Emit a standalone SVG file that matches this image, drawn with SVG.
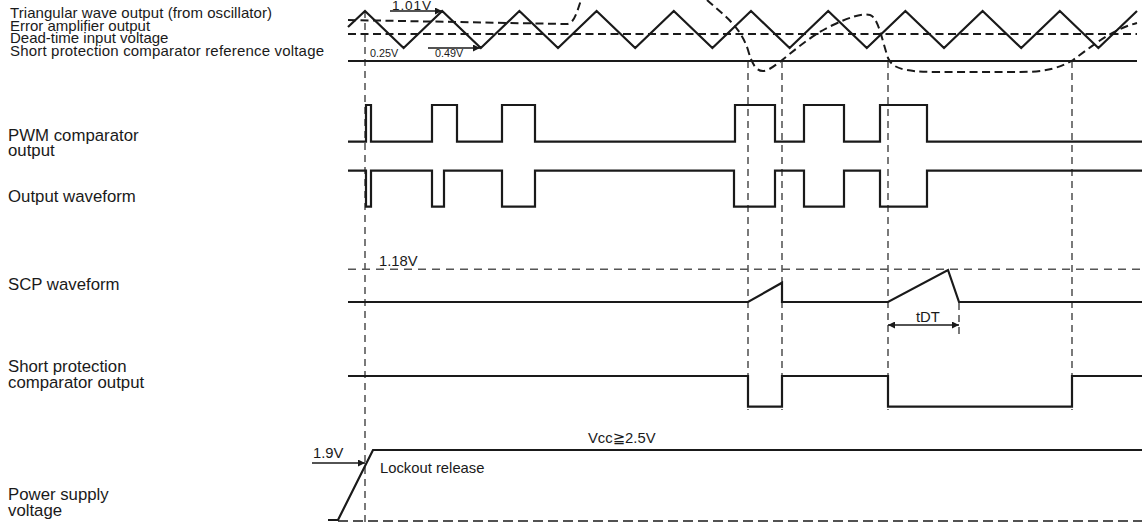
<svg xmlns="http://www.w3.org/2000/svg" width="1142" height="523" viewBox="0 0 1142 523">
<style>
text{font-family:"Liberation Sans","DejaVu Sans","Noto Sans CJK JP",sans-serif;fill:#1a1a1a}
.lbl{font-size:15px}
.lbl2{font-size:16.8px}
.val{font-size:14.8px}
.sm{font-size:10.8px}
.wave{fill:none;stroke:#1a1a1a;stroke-width:2.2;stroke-linejoin:miter}
.dash{fill:none;stroke:#1a1a1a;stroke-width:2;stroke-dasharray:8 4.5}
.guide{fill:none;stroke:#333;stroke-width:1.3;stroke-dasharray:7 5}
.thr{fill:none;stroke:#555;stroke-width:1.5;stroke-dasharray:8 6}
.arr{fill:none;stroke:#1a1a1a;stroke-width:1.4}
</style>
<defs>
<marker id="ah" viewBox="0 0 10 10" refX="10" refY="5" markerWidth="10" markerHeight="7" markerUnits="userSpaceOnUse" orient="auto-start-reverse">
<path d="M0,0 L10,5 L0,10 z" fill="#1a1a1a"/>
</marker>
</defs>

<g id="labels">
<text class="lbl" x="10" y="18.3" textLength="262">Triangular wave output (from oscillator)</text>
<text class="lbl" x="10" y="30.8">Error amplifier output</text>
<text class="lbl" x="10" y="43.3">Dead-time input voltage</text>
<text class="lbl" x="10" y="55.8" textLength="314">Short protection comparator reference voltage</text>
<text class="lbl2" x="8" y="140.7">PWM comparator</text>
<text class="lbl2" x="8" y="156">output</text>
<text class="lbl2" x="8" y="201.7">Output waveform</text>
<text class="lbl2" x="8" y="290">SCP waveform</text>
<text class="lbl2" x="8" y="371.7">Short protection</text>
<text class="lbl2" x="8" y="387.5">comparator output</text>
<text class="lbl2" x="8" y="500">Power supply</text>
<text class="lbl2" x="8" y="515.5">voltage</text>
</g>

<g id="guides">
<path class="guide" d="M365 11 V523"/>
<path class="guide" d="M748 61 V410"/>
<path class="guide" d="M782 61 V410"/>
<path class="guide" d="M888 61 V410"/>
<path class="guide" d="M1072 61 V410"/>
<path class="guide" d="M959 303 V338"/>
</g>

<g id="triangular-wave">
<polyline class="wave" points="348,27 365,11 403.6,48 442.2,11 480.8,48 519.4,11 558,48 596.6,11 635.2,48 673.8,11 712.4,48 751,11 789.6,48 828.2,11 866.8,48 905.4,11 944,48 982.6,11 1021.2,48 1059.8,11 1098.4,48 1137,11"/>
</g>

<g id="error-amp">
<path class="dash" d="M348 20 L566 24 C574 24.5 577 12 581 0 C595 -45 690 -45 707 0 C722 14 740 25 748 50 C752 64 756 71 763 71 C775 71 800 40 833 25 C850 17 862 13 870 15 C878 17 882 40 888 58 C892 67 900 72 937 72 L1020 72 C1045 72 1060 68 1073 60 C1090 48 1110 30 1137 23"/>
</g>

<g id="dead-time">
<path class="dash" d="M348 34 H1137"/>
</g>

<g id="short-ref">
<path class="wave" d="M348 61 H1137"/>
</g>

<g id="top-values">
<path class="arr" d="M390 11 H442" marker-end="url(#ah)"/>
<text class="val" x="392" y="9.6" style="font-size:13.6px" textLength="39">1.01V</text>
<path class="arr" d="M428 48 H480" marker-end="url(#ah)"/>
<text class="sm" x="370" y="57">0.25V</text>
<text class="sm" x="435" y="57">0.49V</text>
</g>

<g id="pwm">
<path class="wave" d="M348 141.7 H366 V105 H371 V141.7 H432 V105 H457 V141.7 H502 V105 H535 V141.7 H735 V105 H775 V141.7 H804 V105 H844 V141.7 H880 V105 H927 V141.7 H1142"/>
</g>

<g id="output-waveform">
<path class="wave" d="M348 170.7 H366 V206.7 H371 V170.7 H432 V206.7 H444 V170.7 H502 V206.7 H535 V170.7 H734 V206.7 H775 V170.7 H804 V206.7 H844 V170.7 H880 V206.7 H927 V170.7 H1142"/>
</g>

<g id="scp">
<path class="thr" d="M348 269.3 H1142"/>
<text class="val" x="379" y="266">1.18V</text>
<path class="wave" d="M348 302 H748 L782 282.7 V302 H888 L948 270 L959 302 H1142"/>
<path class="arr" d="M888 325 H959" marker-start="url(#ah)" marker-end="url(#ah)"/>
<text class="val" x="916" y="321.5">tDT</text>
</g>

<g id="short-comp-output">
<path class="wave" d="M348 376 H748 V406.7 H782 V376 H888 V406.7 H1072 V376 H1142"/>
</g>

<g id="power-supply">
<path class="guide" style="stroke:#1a1a1a;stroke-width:1.5;stroke-dasharray:10 5" d="M338 521 H1142"/>
<path class="wave" d="M328 520 H338 L373 450 H1142"/>
<path class="arr" d="M312 463 H365" marker-end="url(#ah)"/>
<text class="val" x="313" y="458.3">1.9V</text>
<text class="val" x="380" y="473">Lockout release</text>
<text class="val" x="588" y="442.7">Vcc≧2.5V</text>
</g>
</svg>
